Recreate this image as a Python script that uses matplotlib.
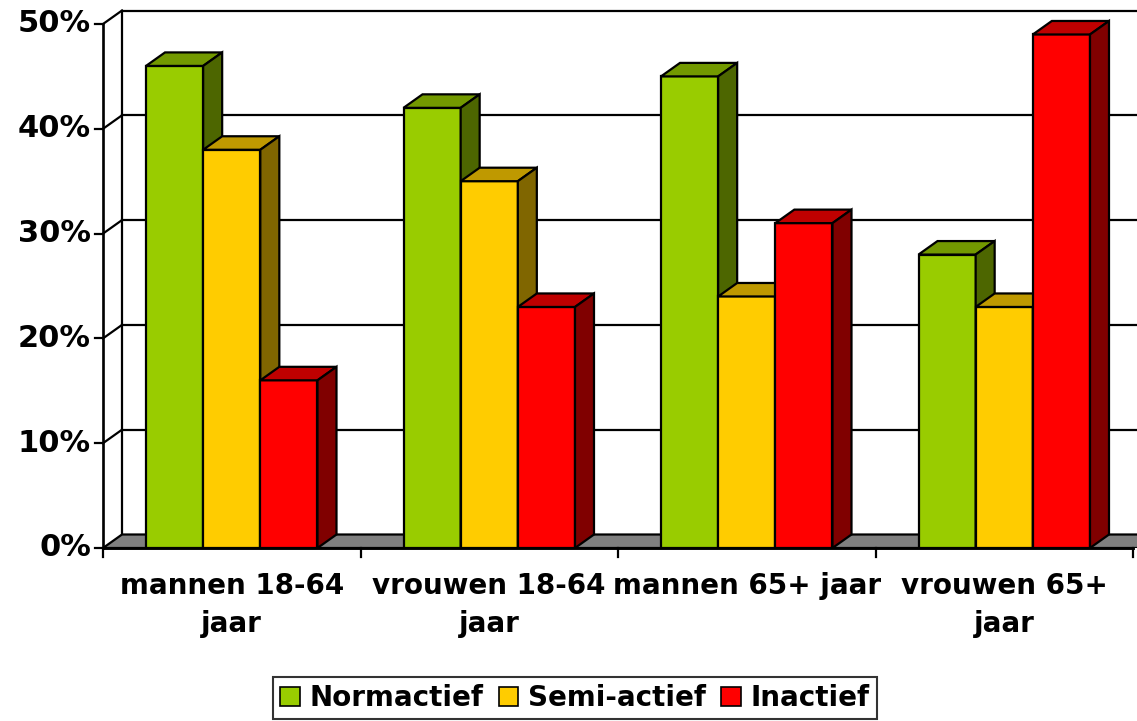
import matplotlib
matplotlib.use("Agg")
import matplotlib.pyplot as plt
from matplotlib.patches import Polygon, Patch

categories = ["mannen 18-64\njaar", "vrouwen 18-64\njaar", "mannen 65+ jaar", "vrouwen 65+\njaar"]
series_names = ["Normactief", "Semi-actief", "Inactief"]
normactief = [46, 42, 45, 28]
semi_actief = [38, 35, 24, 23]
inactief = [16, 23, 31, 49]
y_ticks = [0, 10, 20, 30, 40, 50]

# front, top, side colours per series
front_colors = ["#99CC00", "#FFCC00", "#FF0000"]
top_colors = ["#739900", "#BF9900", "#BF0000"]
side_colors = ["#4D6600", "#806600", "#800000"]

W, H = 1137, 721
PX_X = 257.5   # pixels per category
PX_Y = 10.48   # pixels per percent
DX = 19 / PX_X  # depth offset
DY = 13.5 / PX_Y
BAR_W = 0.222
LW = 1.6

font = "DejaVu Sans"

fig = plt.figure(figsize=(W / 100, H / 100), dpi=100)
left_px, bottom_px, top_px = 103, 548, 8
ax = fig.add_axes([left_px / W, (H - bottom_px) / H, (W - left_px) / W, (bottom_px - top_px) / H])
ax.set_xlim(0, (W - left_px) / PX_X)
ax.set_ylim(0, (bottom_px - top_px) / PX_Y)
ax.axis("off")

xmax = ax.get_xlim()[1] + 0.2

# back wall and left wall lines
ax.plot([DX, DX], [DY, 50 + DY], color="black", lw=LW, zorder=1)
for v in y_ticks[1:]:
    ax.plot([DX, xmax], [v + DY, v + DY], color="black", lw=LW, zorder=1)
    ax.plot([0, DX], [v, v + DY], color="black", lw=LW, zorder=1, clip_on=False)

# floor
floor = Polygon([(0, 0), (xmax, 0), (xmax + DX, DY), (DX, DY)], closed=True,
                facecolor="#808080", edgecolor="black", lw=LW, zorder=2)
ax.add_patch(floor)

# front axes
ax.plot([0, 0], [0, 50], color="black", lw=LW * 1.2, zorder=2, clip_on=False)
ax.plot([0, len(categories)], [0, 0], color="black", lw=LW * 1.3, zorder=50, clip_on=False)
for v in y_ticks:
    ax.plot([-8 / PX_X, 0], [v, v], color="black", lw=LW, clip_on=False)
    ax.text(-12 / PX_X, v, f"{v}%", ha="right", va="center", fontsize=22,
            fontweight="bold", family=font)
for i in range(len(categories) + 1):
    ax.plot([i, i], [0, -9 / PX_Y], color="black", lw=LW, clip_on=False, zorder=50)

# bars with a fake 3d look
all_values = [normactief, semi_actief, inactief]
z = 10
for i in range(len(categories)):
    x0 = i + 0.5 - 1.5 * BAR_W
    for s, values in enumerate(all_values):
        v = values[i]
        xl = x0 + s * BAR_W
        xr = xl + BAR_W
        ax.bar(xl, v, width=BAR_W, align="edge", color=front_colors[s],
               edgecolor="black", lw=LW, zorder=z)
        top = Polygon([(xl, v), (xr, v), (xr + DX, v + DY), (xl + DX, v + DY)],
                      closed=True, facecolor=top_colors[s], edgecolor="black",
                      lw=LW, zorder=z)
        side = Polygon([(xr, 0), (xr + DX, DY), (xr + DX, v + DY), (xr, v)],
                       closed=True, facecolor=side_colors[s], edgecolor="black",
                       lw=LW, zorder=z)
        ax.add_patch(top)
        ax.add_patch(side)
        z += 1

# category labels
for i, cat in enumerate(categories):
    ax.text(i + 0.5, -24 / PX_Y, cat, ha="center", va="top", fontsize=20,
            fontweight="bold", family=font, linespacing=1.45, clip_on=False)

handles = [Patch(facecolor=c, edgecolor="black", lw=1.2) for c in front_colors]
leg = fig.legend(handles, series_names, loc="center", bbox_to_anchor=(575 / W, 1 - 698 / H),
                 ncol=3, frameon=True, fancybox=False, edgecolor="black",
                 prop={"family": font, "weight": "bold", "size": 20},
                 handlelength=0.7, handleheight=0.7, handletextpad=0.35,
                 columnspacing=0.55, borderpad=0.25, borderaxespad=0)
leg.get_frame().set_linewidth(1.5)

fig.savefig("out.png", dpi=100)
